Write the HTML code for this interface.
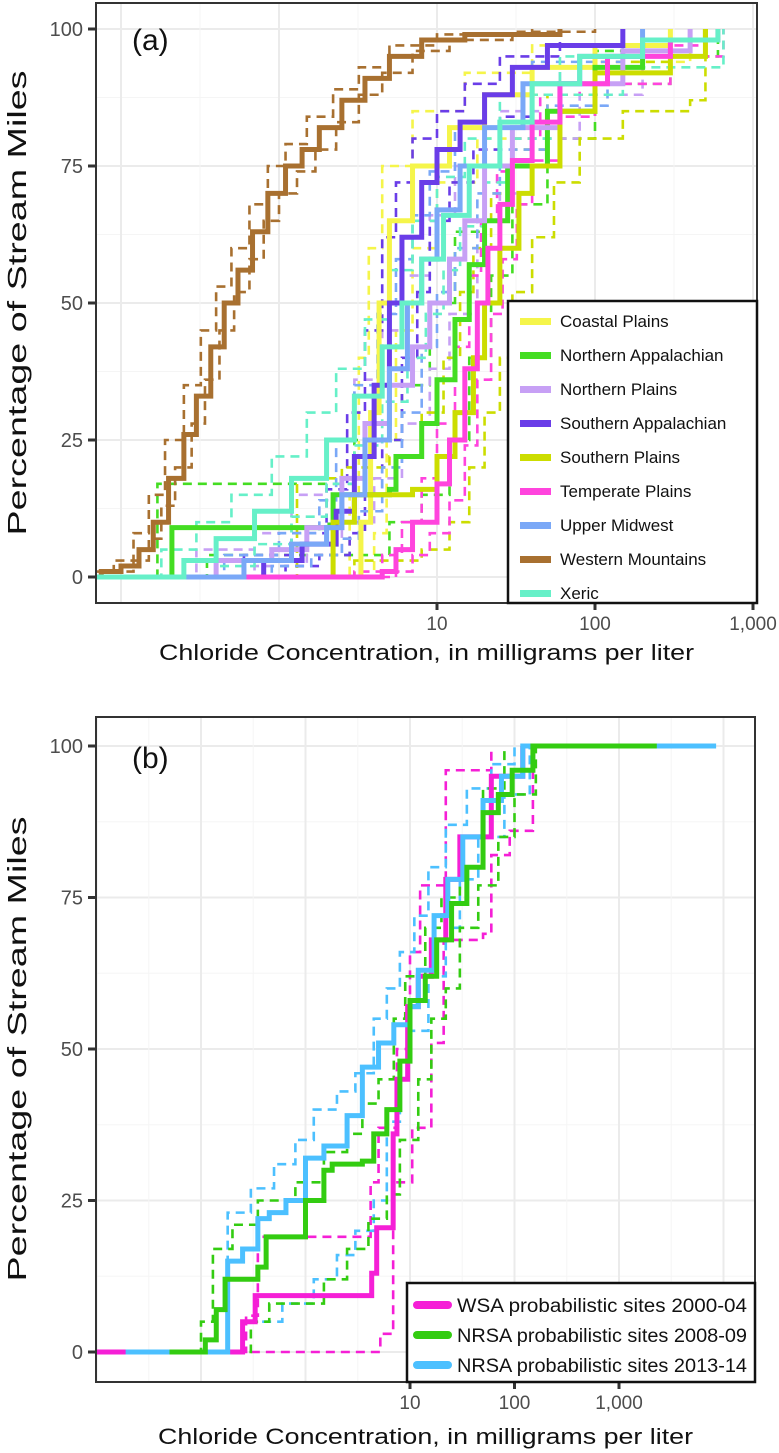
<!DOCTYPE html>
<html><head><meta charset="utf-8"><style>
html,body{margin:0;padding:0;background:#fff}
svg{display:block}
text{font-family:"Liberation Sans",sans-serif}
</style></head><body>
<svg id="chart" width="779" height="1453" viewBox="0 0 779 1453" xmlns="http://www.w3.org/2000/svg"></svg>
<script>
// ---------- Panel (a) data: [concentration mg/L, percent] ----------
const regionNames = ["Coastal Plains","Northern Appalachian","Northern Plains","Southern Appalachian","Southern Plains","Temperate Plains","Upper Midwest","Western Mountains","Xeric"];
const regionColors = ["#f5f54a","#44dd22","#c7a0f5","#6a3de8","#ccdd00","#ff44dd","#7aa8f7","#a87030","#66f0c8"];
const coastalMain = [[3,0],[3.3,10],[3.8,30],[4.3,50],[5,65],[7,75],[12,82],[20,88],[40,93],[100,97],[300,100]];
const coastalUp = [[2.5,0],[2.8,15],[3.2,40],[3.7,60],[4.5,75],[7,85],[15,92],[40,97],[150,100]];
const coastalLo = [[3.5,0],[4,8],[4.8,25],[5.5,45],[7,60],[10,72],[18,80],[40,88],[100,94],[400,100]];
const nappMain = [[0.2,0],[0.21,9],[2.1,9.5],[2.2,15],[5,16],[5.5,22],[8,28],[10,36],[13,47],[16,57],[20,65],[28,75],[50,85],[100,93],[200,98],[500,100]];
const nappUp = [[0.15,0],[0.17,17],[1.5,17],[3,25],[6,35],[9,50],[13,63],[20,75],[40,88],[100,96],[200,100]];
const nappLo = [[0.3,0],[0.35,4],[4,4],[5,10],[8,15],[12,25],[16,40],[22,55],[30,68],[50,80],[100,90],[300,95],[600,100]];
const nplMain = [[0.3,0],[0.4,3],[0.9,5],[1.5,9],[2.5,18],[3.5,28],[5,35],[7,42],[9,50],[12,58],[15,65],[20,75],[30,82],[60,90],[150,96],[400,100]];
const nplUp = [[0.25,0],[0.3,5],[0.7,8],[1.2,15],[2,25],[3,36],[4.5,45],[6,55],[9,66],[13,75],[25,85],[60,93],[200,100]];
const nplLo = [[0.5,0],[0.7,2],[1.5,4],[2.5,10],[4,18],[6,28],[9,38],[12,48],[18,60],[25,70],[40,80],[80,88],[200,95],[500,100]];
const sappMain = [[0.7,0],[0.8,3],[1.4,6],[2.3,12],[3,22],[4,35],[5,50],[6,62],[8,72],[10,78],[14,83],[20,88],[30,93],[50,97],[150,100]];
const sappUp = [[0.5,0],[0.6,4],[1.2,8],[2,16],[2.7,30],[3.5,45],[4.5,62],[5.5,72],[7,80],[10,85],[15,90],[25,95],[60,100]];
const sappLo = [[0.9,0],[1.1,2],[1.8,4],[2.8,8],[3.5,15],[4.5,25],[6,40],[7.5,52],[9,65],[12,72],[17,78],[25,84],[40,90],[80,95],[200,100]];
const splMain = [[2,0],[2.2,10],[3,15],[7,16],[10,22],[13,30],[17,40],[20,50],[25,60],[33,70],[40,75],[60,85],[100,92],[300,95],[500,100]];
const splUp = [[1.2,0],[1.3,18],[2.5,20],[5,22],[8,30],[11,40],[14,52],[17,60],[22,70],[30,78],[50,88],[100,94],[300,100]];
const splLo = [[2.5,0],[3,3],[8,5],[12,10],[16,20],[20,30],[25,40],[30,52],[40,62],[55,72],[80,80],[150,85],[400,87],[500,100]];
const tplMain = [[2,0],[4.5,1],[5.5,5],[7,10],[10,17],[12,25],[15,38],[18,50],[21,60],[25,68],[30,76],[40,83],[60,90],[120,95],[300,98],[600,100]];
const tplUp = [[1.5,0],[3,1],[4.5,4],[6,10],[8,18],[10,28],[13,42],[16,55],[19,65],[24,74],[30,80],[45,88],[80,93],[200,97],[500,100]];
const tplLo = [[3,0],[5.5,1],[7,4],[9,8],[12,14],[15,24],[18,36],[22,48],[26,58],[32,68],[40,76],[60,84],[100,90],[300,95],[650,100]];
const umwMain = [[0.4,0],[0.6,3],[1.2,6],[2,9],[2.5,15],[3.5,25],[5,38],[6.5,50],[8,58],[10,67],[14,75],[20,82],[35,90],[80,95],[200,100]];
const umwUp = [[0.3,0],[0.45,4],[1,8],[1.8,14],[2.3,25],[3,35],[4.2,48],[5.5,58],[7,66],[9,74],[13,82],[20,88],[40,94],[150,100]];
const umwLo = [[0.6,0],[0.9,2],[1.6,4],[2.5,7],[3.2,12],[4.5,20],[6,30],[8,42],[10,52],[13,60],[18,70],[25,78],[50,86],[120,92],[300,100]];
const wmtMain = [[0.065,0],[0.075,1],[0.1,2],[0.13,5],[0.16,10],[0.2,18],[0.25,26],[0.3,33],[0.37,42],[0.45,50],[0.55,56],[0.68,63],[0.85,70],[1.1,75],[1.4,78],[1.8,82],[2.5,87],[3.5,91],[5,95],[8,98],[15,99],[60,100]];
const wmtUp = [[0.065,0],[0.07,1],[0.09,3],[0.12,8],[0.15,15],[0.19,25],[0.25,35],[0.32,45],[0.4,53],[0.5,60],[0.65,68],[0.85,75],[1.1,79],[1.5,84],[2.2,89],[3.2,93],[5,97],[10,99],[40,100]];
const wmtLo = [[0.065,0],[0.09,1],[0.12,3],[0.15,7],[0.18,13],[0.22,20],[0.28,28],[0.34,36],[0.42,45],[0.52,52],[0.65,58],[0.8,65],[1,70],[1.3,74],[1.7,78],[2.3,83],[3.2,88],[4.5,92],[7,96],[12,98],[30,99.5],[100,100]];
const xerMain = [[0.2,0],[0.25,3],[0.4,7],[0.7,12],[1.2,18],[2,25],[3,33],[4.5,42],[6,50],[8,58],[11,66],[16,75],[25,83],[40,90],[80,95],[200,98],[600,100]];
const xerUp = [[0.15,0],[0.18,5],[0.3,10],[0.5,15],[0.9,22],[1.5,30],[2.3,38],[3.5,47],[5,56],[7,65],[10,73],[15,80],[25,88],[60,95],[300,100]];
const xerLo = [[0.3,0],[0.4,2],[0.7,6],[1.2,11],[2,17],[3,24],[4.5,32],[6.5,40],[8.5,48],[11,56],[14,64],[20,72],[30,80],[60,88],[150,93],[650,100]];
const xTickValsA = [10,100,1000];
const xTickLabelsA = ["10","100","1,000"];
const yTickVals = [0,25,50,75,100];
const yTickLabels = ["0","25","50","75","100"];

// ---------- Panel (b) data ----------
const periodNames = ["WSA probabilistic sites 2000-04","NRSA probabilistic sites 2008-09","NRSA probabilistic sites 2013-14"];
const periodColors = ["#f51fd6","#33cc11","#4cc0ff"];
const wsaMain = [[0.01,0],[0.2,0],[0.25,5],[0.33,9.3],[4.1,9.3],[4.3,13],[4.8,20.5],[6.9,36],[7.5,45],[9.5,57],[12,62],[16,68],[22,78],[30,85],[60,95],[120,100]];
const wsaUp = [[0.25,0],[0.27,6],[0.35,19],[4,19],[4.2,28],[5,37],[7.5,50],[10,66],[12.5,77],[22,96],[60,100]];
const wsaLo = [[0.3,0],[5,0],[5.2,3],[6.9,28],[10.5,37],[16,51],[21,68],[50,69],[60,82],[90,86],[150,100]];
const n08Main = [[0.05,0],[0.11,2],[0.14,7],[0.17,12],[0.35,14],[0.42,19],[1.0,25],[1.5,30],[1.8,31],[3.5,31.5],[4.5,36],[6,40],[8,48],[10,58],[14,62],[18,68],[25,74],[35,80],[50,89],[70,92],[95,96],[150,100],[2300,100]];
const n08Up = [[0.09,0],[0.1,5],[0.13,17],[0.2,21],[0.35,25],[0.8,28],[1.5,33],[2.5,36],[3.5,41],[5,45],[7,55],[9,62],[14,70],[20,75],[30,85],[50,93],[80,100]];
const n08Lo = [[0.15,0],[0.3,5],[0.45,8],[1.5,12],[2.5,17],[4,22],[6,26],[8,35],[12,45],[16,55],[22,60],[30,70],[45,77],[70,85],[100,92],[160,100]];
const n13Main = [[0.019,0],[0.17,0],[0.18,15],[0.25,17],[0.35,22],[0.45,23],[0.65,25],[1.0,32],[1.5,34],[2.5,39],[3.5,47],[5,51],[7,54],[10,57],[12,63],[17,72],[23,78],[32,85],[50,91],[75,95],[120,100],[8500,100]];
const n13Up = [[0.17,0],[0.18,23],[0.3,27],[0.5,31],[0.8,35],[1.2,40],[2,43],[3,46],[4.5,55],[6,60],[8,66],[11,72],[15,80],[22,87],[35,93],[60,97],[100,100]];
const n13Lo = [[0.2,0],[0.25,5],[0.6,8],[1.2,12],[2,16],[3,20],[4.5,25],[6,38],[8,48],[10,53],[15,62],[22,70],[30,78],[45,85],[80,92],[140,100]];
const xTickValsB = [10,100,1000];
const xTickLabelsB = ["10","100","1,000"];

const NS = "http://www.w3.org/2000/svg";
const svg = document.getElementById("chart");
function mk(tag, attrs, parent){ const e=document.createElementNS(NS,tag); for(const k in attrs) e.setAttribute(k,attrs[k]); (parent||svg).appendChild(e); return e; }

function panel(cfg){
  const g = mk("g",{});
  
  
  const xs = v => cfg.x10 + (Math.log10(v)-1)*cfg.dec;
  const ys = p => cfg.y0 - p*cfg.ppp;
  const L=cfg.left,R=cfg.right,T=cfg.top,B=cfg.bottom;
  const clipId = cfg.name+"-clip";
  const cp = mk("clipPath",{id:clipId},g); mk("rect",{x:L,y:T,width:R-L,height:B-T},cp);
  const grid = mk("g",{},g);
  
  
  for(let p=0;p<=100;p+=12.5){ mk("line",{x1:L,x2:R,y1:ys(p),y2:ys(p),stroke:p%25===0?"#ebebeb":"#f5f5f5","stroke-width":p%25===0?2:1},grid); }
  for(let e=-3;e<=4.5;e+=0.5){ const x=cfg.x10+(e-1)*cfg.dec; if(x>L&&x<R) mk("line",{x1:x,x2:x,y1:T,y2:B,stroke:Number.isInteger(e)?"#ebebeb":"#f5f5f5","stroke-width":Number.isInteger(e)?2:1},grid); }
  const sg = mk("g",{"clip-path":"url(#"+clipId+")"},g);
  cfg.series.forEach(s=>{
    const pts = s.data;
    let d = cfg.extend ? ("M"+L+","+ys(pts[0][1])+" L"+xs(pts[0][0])+","+ys(pts[0][1])) : ("M"+xs(pts[0][0])+","+ys(pts[0][1]));
    for(let i=1;i<pts.length;i++){ d+=" H"+xs(pts[i][0])+" V"+ys(pts[i][1]); }
    const path = mk("path",{d:d,fill:"none",stroke:s.color,"stroke-width":s.dash?2.6:5,"stroke-dasharray":s.dash?"9,6":"none","stroke-linejoin":"miter"},sg);
    
    
  });
  const fr = mk("rect",{x:L,y:T,width:R-L,height:B-T,fill:"none",stroke:"#333","stroke-width":2},g);
  
  
  yTickVals.forEach((v,i)=>{
    mk("line",{x1:L-8,x2:L,y1:ys(v),y2:ys(v),stroke:"#333","stroke-width":3},g);
    const t = mk("text",{x:L-13,y:ys(v)+7,"text-anchor":"end","font-size":20,fill:"#4d4d4d"},g);
    t.textContent = yTickLabels[i];
    
    
  });
  cfg.xTicks.forEach((v,i)=>{
    mk("line",{x1:xs(v),x2:xs(v),y1:B,y2:B+7,stroke:"#333","stroke-width":3},g);
    const t = mk("text",{x:xs(v),y:B+27,"text-anchor":"middle","font-size":19,fill:"#4d4d4d"},g);
    t.textContent = cfg.xLabels[i];
    
    
  });
  const xt = mk("text",{x:(L+R)/2,y:cfg.xTitleY,"text-anchor":"middle","font-size":22,fill:"#111",textLength:535,lengthAdjust:"spacingAndGlyphs"},g);
  xt.textContent = "Chloride Concentration, in milligrams per liter";
  
  
  const cy=(ys(0)+ys(100))/2;
  const yt = mk("text",{x:26,y:cy,transform:"rotate(-90 26 "+cy+")","text-anchor":"middle","font-size":26,fill:"#111",textLength:465,lengthAdjust:"spacingAndGlyphs"},g);
  yt.textContent = "Percentage of Stream Miles";
  
  
  const pl = mk("text",{x:132,y:cfg.labelY,"font-size":30,fill:"#111"},g);
  pl.textContent = cfg.label;
  
  
  return g;
}

const seriesA = [];
const aMain=[coastalMain,nappMain,nplMain,sappMain,splMain,tplMain,umwMain,wmtMain,xerMain];
const aUp=[coastalUp,nappUp,nplUp,sappUp,splUp,tplUp,umwUp,wmtUp,xerUp];
const aLo=[coastalLo,nappLo,nplLo,sappLo,splLo,tplLo,umwLo,wmtLo,xerLo];
for(let i=0;i<9;i++){
  const id=regionNames[i].toLowerCase().replace(/ /g,'-');
  seriesA.push({id:id+'-upper-bound',data:aUp[i],color:regionColors[i],dash:true});
  seriesA.push({id:id+'-lower-bound',data:aLo[i],color:regionColors[i],dash:true});
}
for(let i=0;i<9;i++){
  const id=regionNames[i].toLowerCase().replace(/ /g,'-');
  seriesA.push({id:id+'-line',data:aMain[i],color:regionColors[i],dash:false});
}
panel({name:"panel-a",extend:true,left:96,right:757,top:3,bottom:603,x10:437,dec:158,y0:577,ppp:5.48,series:seriesA,xTicks:xTickValsA,xLabels:xTickLabelsA,xTitleY:660,label:"(a)",labelY:50});

const seriesB = [
  {id:'wsa-upper-bound',data:wsaUp,color:periodColors[0],dash:true},
  {id:'wsa-lower-bound',data:wsaLo,color:periodColors[0],dash:true},
  {id:'nrsa-2013-upper-bound',data:n13Up,color:periodColors[2],dash:true},
  {id:'nrsa-2013-lower-bound',data:n13Lo,color:periodColors[2],dash:true},
  {id:'nrsa-2008-upper-bound',data:n08Up,color:periodColors[1],dash:true},
  {id:'nrsa-2008-lower-bound',data:n08Lo,color:periodColors[1],dash:true},
  {id:'wsa-line',data:wsaMain,color:periodColors[0],dash:false},
  {id:'nrsa-2013-line',data:n13Main,color:periodColors[2],dash:false},
  {id:'nrsa-2008-line',data:n08Main,color:periodColors[1],dash:false}
];
panel({name:"panel-b",extend:false,left:96,right:755,top:717,bottom:1382,x10:410,dec:104.5,y0:1352,ppp:6.06,series:seriesB,xTicks:xTickValsB,xLabels:xTickLabelsB,xTitleY:1444,label:"(b)",labelY:768});

const lga = mk("g",{});


mk("rect",{x:508,y:301,width:249,height:302,fill:"#fff",stroke:"#111","stroke-width":2.5},lga);
regionNames.forEach((n,i)=>{
  const e = mk("g",{},lga);
  
  
  const y=321+i*34;
  mk("rect",{x:520,y:y-3,width:31,height:7,fill:regionColors[i]},e);
  const t=mk("text",{x:560,y:y+6,"font-size":17,fill:"#111"},e);
  t.textContent=n;
});
const lgb = mk("g",{});


mk("rect",{x:407,y:1283,width:348,height:99,fill:"#fff",stroke:"#111","stroke-width":2.5},lgb);
periodNames.forEach((n,i)=>{
  const e = mk("g",{},lgb);
  
  
  const y=1305+i*30;
  mk("line",{x1:417,x2:448,y1:y,y2:y,stroke:periodColors[i],"stroke-width":8,"stroke-linecap":"round"},e);
  const t=mk("text",{x:457,y:y+7,"font-size":19,fill:"#111",textLength:290,lengthAdjust:"spacingAndGlyphs"},e);
  t.textContent=n;
});
</script>
</body></html>
